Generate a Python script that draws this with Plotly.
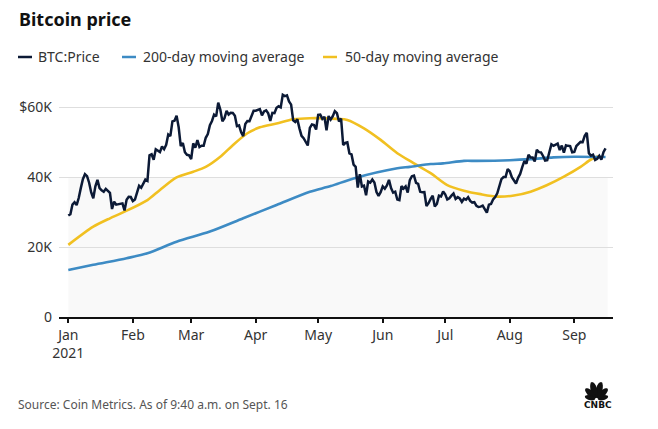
import math
import pandas as pd
import plotly.graph_objects as go

# ---------------- data (values in thousands of USD) ----------------
btc_price_k = [
    28.99,
    29.37, 32.13, 32.78, 31.97, 33.99, 36.82, 39.37, 40.80, 40.25, 38.36, 35.57, 33.92, 37.32, 39.19, 36.83, 36.18,
    35.79, 36.63, 35.89, 35.47, 30.85, 32.95, 32.08, 32.26, 32.25, 32.47, 30.43, 33.47, 34.32, 34.27, 33.11,
    33.54, 35.51, 37.47, 36.93, 38.14, 39.27, 38.90, 46.20, 46.48, 44.92, 47.91, 47.50, 47.11, 48.72, 47.94, 49.20,
    52.15, 51.68, 55.89, 56.10, 57.54, 54.21, 48.82, 49.71, 47.09, 46.34, 46.19, 45.14,
    49.63, 48.38, 50.54, 48.56, 48.93, 48.91, 51.21, 52.25, 54.82, 56.01, 57.81, 57.33, 61.24, 59.30, 55.91, 56.81,
    58.87, 57.86, 58.35, 58.31, 57.52, 54.53, 54.74, 52.77, 51.70, 55.14, 55.97, 55.95, 57.75, 58.92, 58.92,
    59.10, 59.38, 57.60, 58.76, 59.06, 58.19, 56.05, 58.32, 58.25, 59.79, 60.20, 59.89, 63.50, 63.11, 63.31, 61.57,
    60.68, 56.22, 55.72, 56.47, 53.91, 51.76, 51.09, 50.05, 49.00, 54.02, 55.03, 54.82, 53.56, 57.75,
    57.83, 56.63, 57.20, 53.33, 57.42, 56.40, 57.36, 58.80, 58.23, 55.86, 56.70, 49.15, 49.72, 49.88, 46.76, 46.46,
    43.54, 42.91, 37.00, 40.78, 37.30, 37.54, 34.77, 38.71, 38.40, 39.29, 38.44, 35.70, 34.62, 35.68, 37.33,
    36.68, 37.58, 39.19, 36.83, 35.52, 35.80, 33.55, 33.38, 37.39, 36.70, 37.31, 35.55, 39.10, 40.22, 40.41, 38.35,
    38.05, 35.79, 35.62, 35.70, 31.68, 32.51, 33.72, 34.66, 31.59, 32.28, 34.65, 34.43, 35.87, 35.04,
    33.57, 33.90, 34.67, 35.29, 33.75, 34.24, 33.86, 32.88, 33.80, 33.52, 34.24, 33.16, 32.70, 32.82, 31.78, 31.42,
    31.53, 31.80, 30.82, 29.81, 32.11, 32.31, 33.58, 34.29, 35.35, 37.34, 39.41, 40.00, 40.01, 42.24, 41.63,
    39.97, 39.20, 38.15, 39.75, 40.87, 42.82, 44.56, 43.80, 46.37, 45.59, 45.59, 44.43, 47.79, 47.10, 47.05, 46.00,
    44.70, 44.80, 46.72, 49.34, 48.91, 49.32, 49.55, 47.71, 48.96, 46.94, 49.06, 48.90, 48.83, 47.05, 47.17,
    48.85, 49.33, 50.03, 49.94, 51.75, 52.63, 46.81, 46.09, 46.39, 44.88, 45.20, 46.06, 44.96, 47.09, 48.18,
]
price_start = "2021-01-01"

ma200_dates = ["2021-01-01", "2021-01-13", "2021-01-29", "2021-02-08", "2021-02-22", "2021-03-10",
               "2021-03-26", "2021-04-11", "2021-04-27", "2021-05-07", "2021-05-18", "2021-06-08",
               "2021-06-14", "2021-06-24", "2021-06-30", "2021-07-10", "2021-07-16", "2021-08-01",
               "2021-08-11", "2021-08-22", "2021-09-01", "2021-09-16"]
ma200_k = [13.4, 14.9, 16.8, 18.2, 21.5, 24.4, 28.2, 32.0, 35.8, 37.4, 39.6, 42.5,
           42.9, 43.7, 43.9, 44.6, 44.6, 44.8, 45.1, 45.6, 45.8, 45.7]

ma50_dates = ["2021-01-01", "2021-01-13", "2021-01-21", "2021-01-27", "2021-02-08", "2021-02-14",
              "2021-02-22", "2021-03-02", "2021-03-08", "2021-03-15", "2021-03-21", "2021-03-28",
              "2021-04-03", "2021-04-11", "2021-04-19", "2021-04-27", "2021-05-10", "2021-05-15",
              "2021-05-23", "2021-05-31", "2021-06-08", "2021-06-16", "2021-06-24", "2021-07-02",
              "2021-07-10", "2021-07-18", "2021-07-26", "2021-08-03", "2021-08-11", "2021-08-19",
              "2021-08-27", "2021-09-04", "2021-09-09", "2021-09-13"]
ma50_k = [20.6, 25.8, 28.2, 29.8, 33.4, 36.3, 39.9, 41.5, 42.9, 45.8, 49.1, 52.5,
          54.2, 55.3, 56.5, 56.8, 56.6, 56.3, 53.9, 50.6, 46.8, 43.9, 41.1, 37.7,
          36.1, 35.1, 34.4, 34.7, 35.8, 37.7, 40.1, 42.9, 45.0, 46.0]

tick_dates = ["2021-01-01", "2021-02-01", "2021-03-01", "2021-04-01", "2021-05-01",
              "2021-06-01", "2021-07-01", "2021-08-01", "2021-09-01"]
tick_text = ["Jan<br>2021", "Feb", "Mar", "Apr", "May", "Jun", "Jul", "Aug", "Sep"]
y_ticks = [0, 20000, 40000, 60000]
y_tick_text = ["0", "20K", "40K", "$60K"]

series_names = ["BTC:Price", "200-day moving average", "50-day moving average"]
title_text = "Bitcoin price"
source_text = "Source: Coin Metrics. As of 9:40 a.m. on Sept. 16"

# ---------------- styling ----------------
W, H = 658, 429
ML, MR, MT, MB = 59, 45, 90, 112
PW, PH = W - ML - MR, H - MT - MB
BLACK = "#0c1a36"
BLUE = "#3d8bc4"
YELLOW = "#f1c021"
FONT = "Noto Sans"
TXT = "#333333"


def px2x(px):
    return (px - ML) / PW


def px2y(py):
    return (H - MB - py) / PH


price_dates = pd.date_range(price_start, periods=len(btc_price_k), freq="D")

fig = go.Figure()
fig.add_trace(go.Scatter(x=ma50_dates, y=[v * 1000 for v in ma50_k], mode="lines",
                         name=series_names[2], line=dict(color=YELLOW, width=2.6, shape="spline", smoothing=0.8)))
fig.add_trace(go.Scatter(x=ma200_dates, y=[v * 1000 for v in ma200_k], mode="lines",
                         name=series_names[1], line=dict(color=BLUE, width=2.6, shape="spline", smoothing=0.8)))
fig.add_trace(go.Scatter(x=price_dates, y=[v * 1000 for v in btc_price_k], mode="lines",
                         name=series_names[0], line=dict(color=BLACK, width=2.5)))

shapes = []
# faint band under 40K across the data span
shapes.append(dict(type="rect", xref="x", yref="y", x0=price_start, x1="2021-09-17", y0=0, y1=40000,
                   fillcolor="#f9f9f9", line=dict(width=0), layer="below"))

annotations = []
annotations.append(dict(text="<b>" + title_text + "</b>", xref="paper", yref="paper",
                        x=px2x(17), y=px2y(19), xanchor="left", yanchor="middle", showarrow=False,
                        font=dict(family=FONT, size=18, color="#111111")))

legend_items = [(18, 38, BLACK, series_names[0]), (122, 143, BLUE, series_names[1]),
                (323, 345, YELLOW, series_names[2])]
for lx, tx, col, name in legend_items:
    shapes.append(dict(type="line", xref="paper", yref="paper", x0=px2x(lx), x1=px2x(lx + 14),
                       y0=px2y(57), y1=px2y(57), line=dict(color=col, width=2.5)))
    annotations.append(dict(text=name, xref="paper", yref="paper", x=px2x(tx - 2), y=px2y(57),
                            xanchor="left", yanchor="middle", showarrow=False,
                            font=dict(family=FONT, size=14, color=TXT)))

annotations.append(dict(text=source_text, xref="paper", yref="paper", x=px2x(16), y=px2y(404),
                        xanchor="left", yanchor="middle", showarrow=False,
                        font=dict(family=FONT, size=12, color="#555555")))

# CNBC peacock logo
ox, oy = 596.5, 399.5
for ang, length in [(15, 12), (45, 15.5), (75, 18), (105, 18), (135, 15.5), (165, 12)]:
    r0 = 1.5
    a = (length - r0) / 2
    c = r0 + a
    b = 0.15 * length + 0.6
    th = math.radians(ang)
    pts = []
    for k in range(24):
        t = 2 * math.pi * k / 24
        u, v = c + a * math.cos(t), b * math.sin(t)
        X = ox + u * math.cos(th) - v * math.sin(th)
        Y = oy - (u * math.sin(th) + v * math.cos(th))
        pts.append(f"{px2x(X):.5f},{px2y(Y):.5f}")
    shapes.append(dict(type="path", xref="paper", yref="paper", path="M" + " L".join(pts) + " Z",
                       fillcolor="#111111", line=dict(width=0)))
annotations.append(dict(text="<b>CNBC</b>", xref="paper", yref="paper", x=px2x(598), y=px2y(405),
                        xanchor="center", yanchor="middle", showarrow=False,
                        font=dict(family="DejaVu Sans", size=9, color="#111111")))

fig.update_layout(
    width=W, height=H, margin=dict(l=ML, r=MR, t=MT, b=MB, pad=0),
    paper_bgcolor="white", plot_bgcolor="white", showlegend=False,
    shapes=shapes, annotations=annotations,
    font=dict(family=FONT, size=14, color=TXT),
)
fig.update_xaxes(
    type="date", range=["2020-12-27 12:45", "2021-09-19 14:00"],
    tickmode="array", tickvals=tick_dates, ticktext=tick_text,
    showgrid=False, zeroline=False, showline=True, linecolor="#111111", linewidth=2,
    ticks="outside", ticklen=4, tickwidth=1.5, tickcolor="#111111",
    tickfont=dict(family=FONT, size=14, color=TXT),
)
fig.update_yaxes(
    range=[0, (H - MB - MT) / 3.5 * 1000], tickmode="array", tickvals=y_ticks, ticktext=y_tick_text,
    showgrid=True, gridcolor="#dedede", gridwidth=1, zeroline=False, showline=False,
    ticks="", ticklabelstandoff=6,
    tickfont=dict(family=FONT, size=14, color=TXT),
)

fig.write_html("out.html")
